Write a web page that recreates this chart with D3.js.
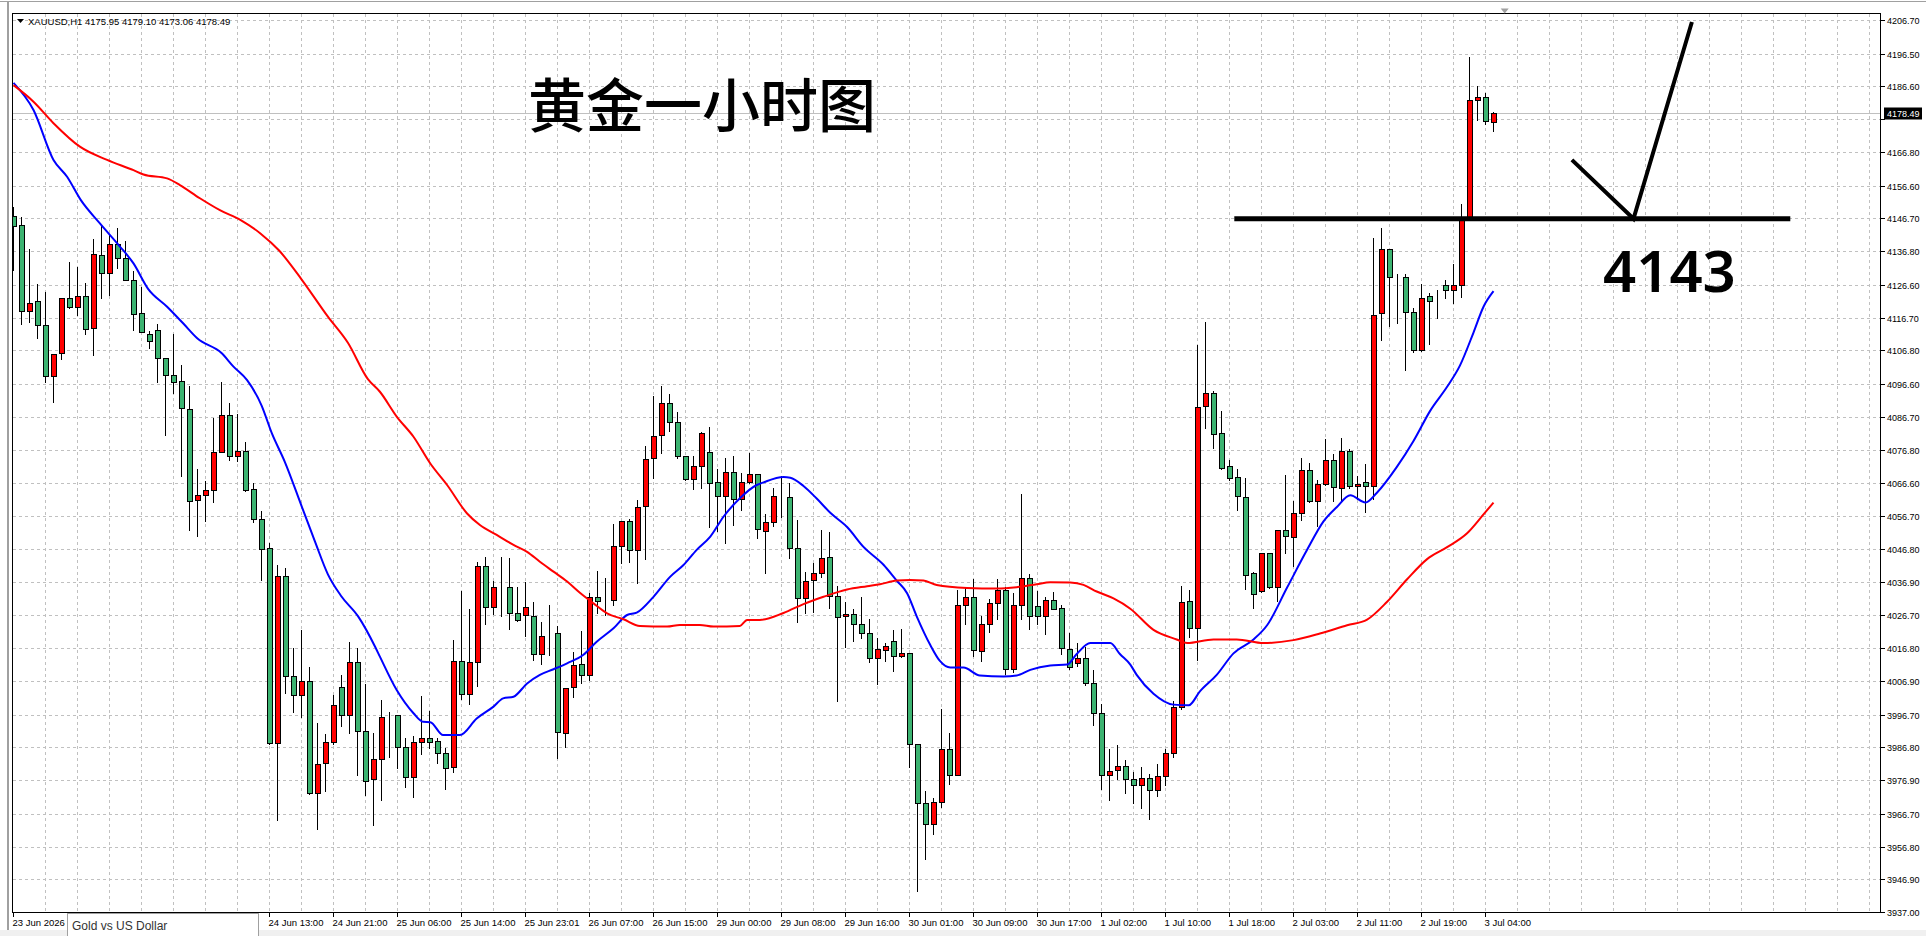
<!DOCTYPE html>
<html>
<head>
<meta charset="utf-8">
<script src="https://cdn.jsdelivr.net/npm/d3@7"></script>
<style>
  body { margin: 0; background: #fff; overflow: hidden; }
  svg text { font-family: "Liberation Sans", Arial, sans-serif; }
</style>
</head>
<body>
<svg id="chart" width="1926" height="936"></svg>
<script>
// ---- data ----
const opens = [4147.4,4144.6,4118.6,4121.6,4114.6,4099.0,4105.9,4122.6,4120.0,4123.4,4113.6,4135.6,4130.3,4139.1,4134.6,4128.2,4118.2,4111.9,4113.1,4104.6,
  4099.4,4097.5,4089.2,4061.6,4063.1,4064.7,4076.2,4087.3,4075.0,4076.5,4064.9,4055.9,4047.0,3988.0,4038.5,4008.5,4002.6,4006.8,3973.0,3982.2,
  3988.3,4005.0,3996.5,4012.6,3991.7,3977.1,3983.3,3996.2,3996.5,3986.8,3977.9,3988.3,3989.5,3988.7,3985.0,3980.7,4012.9,4002.9,4012.7,4041.6,
  4029.1,4035.2,4035.2,4027.3,4026.8,4026.6,4015.0,4021.0,4021.3,3991.2,4004.9,4012.0,4008.7,4032.1,4031.3,4031.3,4047.7,4055.2,4046.4,4059.8,
  4074.2,4081.2,4090.8,4085.3,4075.0,4067.8,4071.9,4076.0,4066.9,4062.9,4069.9,4061.8,4066.9,4069.3,4052.3,4054.8,4062.4,4062.4,4047.2,4032.0,
  4037.5,4039.6,4044.2,4032.6,4026.4,4027.2,4024.2,4021.3,4013.9,4016.1,4019.0,4014.5,4015.2,3987.7,3969.9,3963.7,3970.4,3986.2,3978.5,4029.9,
  4032.3,4015.8,4024.2,4030.4,4034.5,4010.4,4029.9,4037.9,4029.6,4026.4,4031.2,4028.8,4016.4,4012.3,4013.8,4006.2,3997.2,3978.3,3979.9,3981.0,
  3977.2,3975.5,3977.5,3974.0,3978.0,3985.2,3999.0,4031.1,4023.0,4089.9,4093.9,4081.8,4071.8,4068.6,4062.5,4039.4,4034.1,4045.5,4035.4,4052.5,
  4050.4,4057.7,4070.5,4061.2,4066.5,4073.6,4065.1,4076.5,4065.8,4066.9,4065.8,4118.2,4137.4,4129.0,4129.0,4118.3,4106.8,4123.3,4121.9,4126.5,
  4125.0,4126.5,4147.1,4182.4,4183.5,4175.95];
const highs = [4150.4,4147.4,4137.7,4127.1,4124.9,4105.9,4122.8,4133.7,4132.4,4127.6,4140.7,4145.0,4142.2,4144.0,4140.1,4131.2,4126.4,4113.1,4115.2,4104.8,
  4112.1,4102.6,4096.3,4071.1,4067.5,4086.6,4097.6,4091.1,4088.0,4079.5,4067.1,4058.6,4048.9,4042.2,4041.3,4017.2,4022.7,4011.4,3994.4,3991.1,
  4003.0,4009.0,4019.0,4017.0,4006.3,3991.4,4001.5,3997.9,3996.6,3990.0,3990.5,4002.6,3998.1,3990.0,3987.0,4019.4,4034.3,4028.8,4043.1,4044.6,
  4037.4,4044.6,4044.4,4035.6,4037.1,4031.0,4025.0,4030.0,4023.8,4004.7,4016.0,4022.3,4033.8,4040.4,4038.4,4054.7,4055.3,4056.0,4061.8,4078.2,
  4093.3,4096.3,4094.0,4088.5,4075.2,4075.2,4082.4,4083.9,4071.1,4074.5,4075.2,4070.1,4076.2,4069.5,4057.7,4065.5,4069.0,4067.1,4055.7,4040.1,
  4042.8,4052.8,4052.1,4035.9,4030.9,4029.0,4032.6,4025.8,4020.1,4018.6,4022.6,4022.9,4015.6,3987.8,3974.0,3971.8,3998.8,3991.5,4034.8,4035.5,
  4038.0,4026.9,4032.0,4038.0,4035.5,4033.7,4063.6,4039.5,4034.5,4032.5,4034.2,4030.1,4021.7,4018.6,4017.4,4010.4,4000.1,3986.6,3987.7,3983.2,
  3979.5,3981.0,3979.0,3982.0,3986.5,4001.2,4035.8,4034.7,4108.6,4115.7,4094.8,4088.7,4073.9,4071.1,4068.6,4040.1,4045.8,4045.8,4052.9,4069.4,
  4061.5,4074.6,4073.2,4067.9,4080.4,4075.8,4080.5,4077.2,4069.1,4072.9,4141.0,4144.2,4137.9,4130.3,4130.3,4120.0,4127.1,4124.6,4125.3,4128.3,
  4133.2,4151.4,4195.7,4187.1,4184.9,4179.10];
const lows = [4131.0,4114.8,4115.4,4110.7,4097.2,4091.1,4104.3,4119.7,4117.6,4111.8,4105.4,4122.7,4123.7,4131.8,4128.0,4113.0,4112.4,4107.6,4097.2,4081.1,
  4093.9,4068.8,4052.5,4050.7,4055.3,4061.0,4076.0,4073.8,4073.4,4064.4,4054.9,4037.5,3987.8,3964.9,4003.2,3997.4,3995.9,3972.8,3962.0,3973.7,
  3987.8,3993.1,3991.1,3978.5,3972.4,3963.4,3970.9,3984.0,3980.6,3974.7,3971.9,3984.7,3986.7,3982.0,3974.1,3979.4,4001.4,3999.8,4005.3,4024.1,
  4027.1,4026.6,4022.5,4025.1,4020.3,4013.2,4011.9,4014.7,3983.5,3987.0,4001.9,4006.1,4007.1,4027.3,4026.8,4029.8,4042.6,4042.9,4036.4,4043.6,
  4068.1,4075.9,4082.5,4074.2,4067.6,4064.8,4065.1,4053.5,4052.2,4048.7,4054.0,4058.5,4066.6,4050.0,4039.6,4053.7,4056.3,4043.9,4024.8,4027.4,
  4027.7,4038.2,4028.8,4000.7,4017.2,4019.0,4019.7,4012.5,4005.8,4012.9,4009.9,4014.2,3980.8,3943.2,3952.9,3960.7,3968.8,3975.8,3978.4,4024.2,
  4014.3,4012.9,4021.8,4025.6,4009.1,4009.6,4025.6,4022.6,4024.0,4021.2,4028.6,4015.0,4010.4,4011.3,4005.6,3993.6,3974.3,3970.8,3977.2,3972.9,
  3970.0,3968.5,3965.0,3972.0,3975.5,3984.0,3998.3,4020.2,4013.3,4083.2,4077.2,4070.8,4067.6,4058.4,4034.8,4029.0,4033.7,4035.1,4031.1,4045.5,
  4041.5,4055.5,4061.1,4053.7,4066.1,4061.2,4061.5,4065.1,4061.8,4058.0,4061.8,4109.8,4114.3,4115.0,4101.0,4106.2,4106.5,4108.6,4116.5,4122.5,
  4121.2,4122.9,4147.0,4176.4,4175.2,4173.06];
const closes = [4144.4,4118.6,4121.2,4114.6,4099.1,4105.7,4122.6,4120.0,4123.4,4113.3,4135.8,4130.3,4138.9,4134.6,4128.2,4117.8,4112.5,4109.7,4104.6,4099.4,
  4097.3,4089.4,4061.3,4063.1,4064.7,4076.1,4087.3,4075.0,4076.5,4064.7,4055.9,4046.8,3988.0,4038.5,4008.3,4002.6,4006.8,3973.0,3981.6,3988.3,
  3999.6,3996.5,4012.6,3991.7,3976.7,3983.2,3996.0,3996.4,3986.8,3977.7,3988.3,3989.5,3988.5,3985.0,3980.4,4012.9,4002.9,4012.5,4041.6,4029.1,
  4035.2,4035.3,4027.3,4025.3,4029.3,4015.0,4020.5,4021.1,3991.5,4004.6,4011.7,4008.7,4032.3,4031.0,4031.4,4047.7,4055.2,4046.4,4059.6,4073.9,
  4080.9,4090.8,4085.3,4075.0,4067.8,4071.9,4081.7,4066.6,4062.9,4069.9,4061.8,4066.9,4069.3,4052.7,4054.8,4062.8,4062.5,4047.2,4032.0,4037.2,
  4039.6,4044.0,4032.6,4026.2,4027.2,4024.2,4021.3,4013.9,4016.4,4017.4,4014.5,4015.4,3987.7,3969.9,3963.5,3970.4,3986.2,3978.3,4029.9,4032.3,
  4016.1,4024.2,4030.4,4034.3,4010.4,4029.9,4037.9,4026.6,4026.4,4031.2,4028.7,4016.9,4011.0,4013.8,4006.2,3997.2,3978.3,3979.6,3981.0,3977.2,
  3975.5,3977.5,3974.0,3978.0,3985.2,3999.0,4030.8,4023.0,4089.8,4093.9,4081.5,4071.2,4068.2,4062.7,4038.9,4033.0,4045.5,4035.4,4052.5,4050.8,
  4057.7,4070.5,4061.2,4066.5,4073.6,4065.4,4076.5,4065.8,4066.5,4065.8,4117.6,4137.4,4128.9,4129.1,4118.3,4106.8,4122.7,4121.7,4122.0,4125.0,
  4126.5,4146.9,4182.4,4183.5,4176.1,4178.49];

// moving averages, sampled by bar position
const fastMaBar = [0,2.5,5,6.7,8.4,10.8,13.2,15,16.8,19.2,21.2,23,26,27.5,29.2,31,32.3,33.9,36,37.7,39.3,41,43.1,45.2,45.8,47.9,50,51.2,52.1,53.7,55.8,57.9,
  60,61.2,62.5,64.2,65.8,67.5,69.2,71.2,72.9,75,76.7,77.9,80,82.1,83.75,85.4,87.1,88.75,90.8,92.9,93.75,96.25,97.1,98.75,100.4,102.1,104.2,106.25,
  108.75,110.4,111.7,112.9,114.6,115.8,117.1,118.75,120.8,123.75,125.4,127.1,129.6,131.7,132.9,134.6,137.1,138.3,139.6,140.4,142.5,145,146.9,148.3,
  150.4,152.5,155,156.7,159.2,161.7,163.75,165.4,167.1,169,170.4,172.9,175,177.1,179.2,180.8,182.5,183.75,185];
const fastMaVal = [4187.7,4179.5,4164.4,4159.3,4152.3,4145.2,4138.5,4133.1,4125.5,4120.0,4115.0,4110.4,4106.0,4101.9,4097.8,4090.2,4081.7,4073.2,4059.8,4048.9,
  4039.1,4032.4,4026.3,4017.2,4014.2,4004.1,3997.1,3994.5,3994.4,3990.5,3990.5,3995.5,3999.1,4001.6,4002.1,4006.1,4008.7,4010.4,4012.2,4014.7,4018.7,
  4022.8,4026.8,4027.5,4032.3,4038.4,4041.9,4046.5,4050.5,4056.5,4062.1,4066.1,4066.9,4068.5,4068.3,4065.8,4062.0,4057.7,4053.4,4047.4,4042.0,4037.2,
  4033.4,4026.4,4017.7,4012.9,4010.9,4010.9,4008.5,4008.2,4008.5,4010.2,4011.5,4011.8,4015.0,4018.3,4018.3,4015.0,4011.8,4008.7,4003.0,3999.7,3999.5,
  4003.7,4008.7,4015.2,4019.4,4023.7,4035.1,4046.5,4055.1,4059.4,4063.0,4060.8,4063.7,4071.5,4079.4,4088.6,4095.8,4102.2,4112.2,4120.0,4124.7];
const slowMaBar = [0,2.5,5,8.3,11.7,15,16.25,19.2,20.8,23.3,25.8,28.4,30.9,33.2,36,39.3,41.8,44.3,45.8,47.9,50,52.1,54.2,56.7,58.3,60.4,62.5,64.2,65.8,
  67.5,69.2,70.8,72.5,74.2,76.25,78.3,81.7,83.3,85.8,87.5,90.8,91.7,93.3,96.25,98.75,101.25,104.2,106.7,108.3,110.4,112.1,113.75,115.4,119.2,122.9,
  125.4,127.9,129.6,132.1,133.75,135.4,137.5,139.6,142.5,145.4,146.7,150,152.9,156.25,160,163.3,166.7,169.2,171.7,174.2,176.7,179.2,181.7,183.75,185];
const slowMaVal = [4187.0,4182.0,4175.5,4168.4,4164.4,4161.3,4160.0,4158.8,4156.8,4152.8,4149.2,4146.2,4142.1,4137.0,4128.3,4117.0,4109.1,4098.1,4094.3,
  4086.8,4080.7,4072.6,4066.1,4057.5,4054.0,4051.0,4048.0,4045.9,4042.9,4039.9,4036.9,4033.5,4030.3,4027.3,4025.5,4023.5,4023.3,4023.8,4023.8,4023.3,
  4023.5,4025.3,4025.3,4027.4,4030.1,4032.3,4034.5,4035.5,4036.1,4037.2,4037.4,4037.2,4035.9,4035.0,4034.8,4035.2,4036.1,4036.7,4036.6,4035.9,4033.9,
  4031.8,4028.7,4022.3,4019.4,4018.3,4019.4,4019.4,4018.3,4019.2,4021.2,4023.7,4025.4,4030.8,4037.6,4043.7,4047.3,4051.5,4057.2,4060.8];

// one label every 8 bars; the 2nd-4th sit under the symbol tab and are not shown
const timeLabels = ["23 Jun 2026","23 Jun 12:00","23 Jun 20:00","24 Jun 05:00","24 Jun 13:00","24 Jun 21:00","25 Jun 06:00","25 Jun 14:00",
  "25 Jun 23:01","26 Jun 07:00","26 Jun 15:00","29 Jun 00:00","29 Jun 08:00","29 Jun 16:00","30 Jun 01:00","30 Jun 09:00","30 Jun 17:00",
  "1 Jul 02:00","1 Jul 10:00","1 Jul 18:00","2 Jul 03:00","2 Jul 11:00","2 Jul 19:00","3 Jul 04:00"];
const hiddenTimeLabels = [1, 2, 3];
const priceLabels = [4206.70,4196.50,4186.60,4176.70,4166.80,4156.60,4146.70,4136.80,4126.60,4116.70,4106.80,4096.60,4086.70,4076.80,
  4066.60,4056.70,4046.80,4036.90,4026.70,4016.80,4006.90,3996.70,3986.80,3976.90,3966.70,3956.80,3946.90,3937.00];
const lastPrice = 4178.49;
const levelPrice = 4146.6;

// ---- layout ----
const svg = d3.select("#chart");
const frame = {left: 12.5, top: 13.5, right: 1880.5, bottom: 912.5};
const x = d3.scaleLinear().domain([0, 100]).range([13.5, 813.5]);   // 8 px per bar
const y = d3.scaleLinear().domain([3937, 4206.7]).range([912, 20]);
const py = v => Math.round(y(v)) + 0.5;
const px = i => Math.round(x(i) - 0.5) + 0.5;

// window edges
svg.append("rect").attr("x", 0).attr("y", 0).attr("width", 1926).attr("height", 936).attr("fill", "#fff");
svg.append("rect").attr("x", 0).attr("y", 930).attr("width", 1926).attr("height", 6).attr("fill", "#f0f0f0");
svg.append("line").attr("x1", 0).attr("x2", 1926).attr("y1", 1.5).attr("y2", 1.5).attr("stroke", "#a0a0a0");
svg.append("line").attr("x1", 8).attr("x2", 8).attr("y1", 1).attr("y2", 930).attr("stroke", "#a0a0a0").attr("stroke-width", 2);

svg.append("clipPath").attr("id", "plot").append("rect")
  .attr("x", frame.left).attr("y", frame.top).attr("width", frame.right - frame.left).attr("height", frame.bottom - frame.top);

const grid = svg.append("g").attr("stroke", "#c0c0c0").attr("stroke-dasharray", "3,3").attr("shape-rendering", "crispEdges");
priceLabels.forEach(v => {
  grid.append("line").attr("x1", frame.left).attr("x2", frame.right).attr("y1", py(v)).attr("y2", py(v));
});
for (let i = 4; x(i) < frame.right; i += 4) {
  grid.append("line").attr("x1", px(i)).attr("x2", px(i)).attr("y1", frame.top).attr("y2", frame.bottom);
}

// bid line
svg.append("line").attr("x1", frame.left).attr("x2", frame.right).attr("y1", py(lastPrice)).attr("y2", py(lastPrice))
  .attr("stroke", "#c0c0c0").attr("shape-rendering", "crispEdges");

const plot = svg.append("g").attr("clip-path", "url(#plot)");

// candles
const bars = d3.range(opens.length);
const cg = plot.append("g").attr("shape-rendering", "crispEdges");
cg.selectAll("line.wick").data(bars).enter().append("line")
  .attr("x1", px).attr("x2", px)
  .attr("y1", i => py(highs[i])).attr("y2", i => py(lows[i]))
  .attr("stroke", "#000");
cg.selectAll("rect.body").data(bars).enter().append("rect")
  .attr("x", i => px(i) - 2.5)
  .attr("width", 5)
  .attr("y", i => py(Math.max(opens[i], closes[i])))
  .attr("height", i => py(Math.min(opens[i], closes[i])) - py(Math.max(opens[i], closes[i])))
  .attr("fill", i => closes[i] >= opens[i] ? "#ff0000" : "#3cb371")
  .attr("stroke", "#000");

// moving averages
const maLine = d3.line().x(d => x(d[0])).y(d => y(d[1])).curve(d3.curveMonotoneX);
plot.append("path").datum(fastMaBar.map((b, k) => [b, fastMaVal[k]]))
  .attr("d", maLine).attr("fill", "none").attr("stroke", "#0000ff").attr("stroke-width", 2);
plot.append("path").datum(slowMaBar.map((b, k) => [b, slowMaVal[k]]))
  .attr("d", maLine).attr("fill", "none").attr("stroke", "#ff0000").attr("stroke-width", 2);

// hand drawn marks
plot.append("line").attr("x1", x(152.6)).attr("x2", x(222.1)).attr("y1", y(levelPrice)).attr("y2", y(levelPrice))
  .attr("stroke", "#000").attr("stroke-width", 5);
plot.append("path")
  .attr("d", d3.line().x(d => x(d[0])).y(d => y(d[1]))([[194.8, 4164.4], [202.5, 4146.6], [209.8, 4206.1]]))
  .attr("fill", "none").attr("stroke", "#000").attr("stroke-width", 4);
svg.append("text").attr("x", x(64.3)).attr("y", y(4174.3))
  .style("font-family", "'Noto Sans CJK SC', sans-serif").style("font-size", "58px").style("font-weight", 500)
  .attr("fill", "#000").text("黄金一小时图");
svg.append("text").attr("x", x(198.7)).attr("y", y(4124.5))
  .style("font-family", "'Noto Sans', sans-serif").style("font-size", "58px").style("font-weight", 600)
  .attr("fill", "#000").text("4143");

// frame
svg.append("rect").attr("x", frame.left).attr("y", frame.top).attr("width", frame.right - frame.left).attr("height", frame.bottom - frame.top)
  .attr("fill", "none").attr("stroke", "#000").attr("shape-rendering", "crispEdges");

// chart shift marker
svg.append("path").attr("d", `M${x(186.4) - 4},${frame.top - 5} h8 l-4,5 z`).attr("fill", "#a0a0a0");

// header
svg.append("path").attr("d", "M17,19 h7 l-3.5,4 z").attr("fill", "#000");
svg.append("text").attr("x", 28).attr("y", 25).style("font-size", "9.5px").attr("fill", "#000")
  .text("XAUUSD,H1  " + [opens[185], highs[185], lows[185], closes[185]].map(v => v.toFixed(2)).join(" "));

// price axis (the label under the bid box is covered)
const pa = svg.append("g");
priceLabels.forEach(v => {
  pa.append("line").attr("x1", frame.right).attr("x2", frame.right + 4).attr("y1", py(v)).attr("y2", py(v))
    .attr("stroke", "#000").attr("shape-rendering", "crispEdges");
  if (Math.abs(py(v) - py(lastPrice)) < 11) return;
  pa.append("text").attr("x", 1887).attr("y", py(v) + 3.5).style("font-size", "9px").attr("fill", "#000").text(v.toFixed(2));
});
pa.append("rect").attr("x", 1884).attr("y", py(lastPrice) - 6).attr("width", 38).attr("height", 12).attr("fill", "#000");
pa.append("text").attr("x", 1887).attr("y", py(lastPrice) + 3.5).style("font-size", "9px").attr("fill", "#fff").text(lastPrice.toFixed(2));

// time axis
const ta = svg.append("g");
timeLabels.forEach((t, k) => {
  const xi = px(k * 8);
  ta.append("line").attr("x1", xi).attr("x2", xi).attr("y1", frame.bottom).attr("y2", frame.bottom + 4)
    .attr("stroke", "#000").attr("shape-rendering", "crispEdges");
  if (hiddenTimeLabels.includes(k)) return;
  ta.append("text").attr("x", xi - 1).attr("y", 926).style("font-size", "9.5px").attr("fill", "#000").text(t);
});

// symbol tab
svg.append("rect").attr("x", 67.5).attr("y", 913.5).attr("width", 191).attr("height", 23).attr("fill", "#fff").attr("stroke", "#a0a0a0");
svg.append("text").attr("x", 72).attr("y", 930).style("font-size", "12px").attr("fill", "#333").text("Gold vs US Dollar");
</script>
</body>
</html>
